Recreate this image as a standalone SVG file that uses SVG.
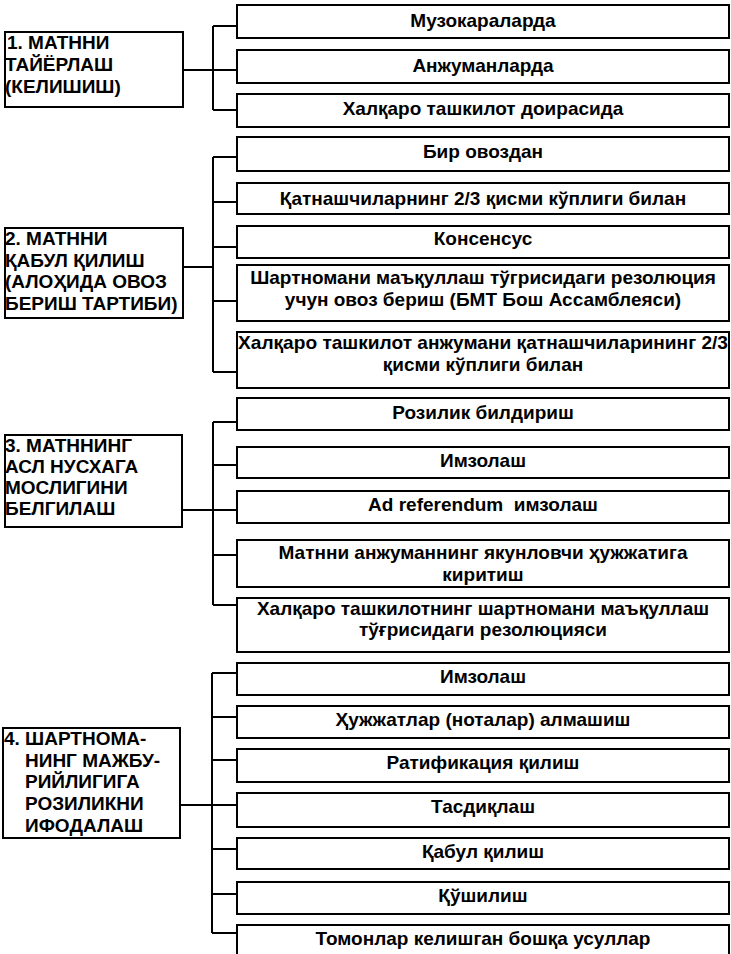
<svg xmlns="http://www.w3.org/2000/svg" width="731" height="954" viewBox="0 0 731 954">
<style>
rect{fill:#fff;stroke:#000;stroke-width:2}
.c path{fill:none;stroke:#000;stroke-width:2}
text{font-family:"Liberation Sans",Arial,sans-serif;font-weight:bold;fill:#000}
.l{font-size:19px}
.r{font-size:19px;text-anchor:middle}
</style>
<rect x="0" y="0" width="731" height="954" style="stroke:none"/>
<g class="c" id="connectors">
<path d="M183 70H213M213 26V110M213 26H237M213 70H237M213 110H237"/>
<path d="M183 267H213M213 157V372M213 157H237M213 202H237M213 247H237M213 301H237M213 372H237"/>
<path d="M182 510H213M213 422V605M213 422H237M213 465H237M213 510H237M213 555H237M213 605H237"/>
<path d="M180 805H212M212 673V933M212 673H237M212 717H237M212 760H237M212 805H237M212 849H237M212 894H237M212 933H237"/>
</g>
<g id="n1"><rect x="5" y="32" width="178" height="75"/>
<text class="l" x="7" y="49">1. МАТННИ</text><text class="l" x="5" y="71">ТАЙЁРЛАШ</text><text class="l" x="5" y="93">(КЕЛИШИШ)</text></g>
<g id="n2"><rect x="5" y="228" width="178" height="90"/>
<text class="l" x="5" y="245">2. МАТННИ</text><text class="l" x="5" y="267">ҚАБУЛ ҚИЛИШ</text><text class="l" x="5" y="288">(АЛОҲИДА ОВОЗ</text><text class="l" x="5" y="310">БЕРИШ ТАРТИБИ)</text></g>
<g id="n3"><rect x="5" y="435" width="177" height="92"/>
<text class="l" x="5" y="452">3. МАТННИНГ</text><text class="l" x="5" y="473">АСЛ НУСХАГА</text><text class="l" x="5" y="494">МОСЛИГИНИ</text><text class="l" x="5" y="515">БЕЛГИЛАШ</text></g>
<g id="n4"><rect x="3" y="728" width="177" height="110"/>
<text class="l" x="4" y="745">4. ШАРТНОМА-</text><text class="l" x="25" y="767">НИНГ МАЖБУ-</text><text class="l" x="25" y="788">РИЙЛИГИГА</text><text class="l" x="25" y="810">РОЗИЛИКНИ</text><text class="l" x="25" y="832">ИФОДАЛАШ</text></g>
<g id="b1"><rect x="237" y="5" width="492" height="33"/><text class="r" x="483" y="27">Музокараларда</text></g>
<g id="b2"><rect x="237" y="50" width="492" height="33"/><text class="r" x="483" y="72">Анжуманларда</text></g>
<g id="b3"><rect x="237" y="94" width="492" height="33"/><text class="r" x="483" y="115">Халқаро ташкилот доирасида</text></g>
<g id="b4"><rect x="237" y="137" width="492" height="34"/><text class="r" x="483" y="158">Бир овоздан</text></g>
<g id="b5"><rect x="237" y="183" width="492" height="31"/><text class="r" x="483" y="205">Қатнашчиларнинг 2/3 қисми кўплиги билан</text></g>
<g id="b6"><rect x="237" y="226" width="492" height="32"/><text class="r" x="483" y="245">Консенсус</text></g>
<g id="b7"><rect x="237" y="265" width="492" height="56"/><text class="r" x="483" y="284">Шартномани маъқуллаш тўгрисидаги резолюция</text><text class="r" x="483" y="306">учун овоз бериш (БМТ Бош Ассамблеяси)</text></g>
<g id="b8"><rect x="237" y="332" width="492" height="56"/><text class="r" x="483" y="349" textLength="490" lengthAdjust="spacingAndGlyphs">Халқаро ташкилот анжумани қатнашчиларининг 2/3</text><text class="r" x="483" y="371">қисми кўплиги билан</text></g>
<g id="b9"><rect x="237" y="398" width="492" height="32"/><text class="r" x="483" y="419">Розилик билдириш</text></g>
<g id="b10"><rect x="237" y="447" width="492" height="31"/><text class="r" x="483" y="467">Имзолаш</text></g>
<g id="b11"><rect x="237" y="491" width="492" height="32"/><text class="r" x="483" y="511">Ad referendum&#160; имзолаш</text></g>
<g id="b12"><rect x="237" y="540" width="492" height="47"/><text class="r" x="483" y="559">Матнни анжуманнинг якунловчи ҳужжатига</text><text class="r" x="483" y="581">киритиш</text></g>
<g id="b13"><rect x="237" y="598" width="492" height="54"/><text class="r" x="483" y="615">Халқаро ташкилотнинг шартномани маъқуллаш</text><text class="r" x="483" y="636">тўғрисидаги резолюцияси</text></g>
<g id="b14"><rect x="237" y="663" width="492" height="32"/><text class="r" x="483" y="683">Имзолаш</text></g>
<g id="b15"><rect x="237" y="706" width="492" height="32"/><text class="r" x="483" y="726">Ҳужжатлар (ноталар) алмашиш</text></g>
<g id="b16"><rect x="237" y="749" width="492" height="33"/><text class="r" x="483" y="769">Ратификация қилиш</text></g>
<g id="b17"><rect x="237" y="793" width="492" height="34"/><text class="r" x="483" y="813">Тасдиқлаш</text></g>
<g id="b18"><rect x="237" y="838" width="492" height="31"/><text class="r" x="483" y="858">Қабул қилиш</text></g>
<g id="b19"><rect x="237" y="882" width="492" height="32"/><text class="r" x="483" y="902">Қўшилиш</text></g>
<g id="b20"><rect x="237" y="925" width="492" height="40"/><text class="r" x="483" y="945">Томонлар келишган бошқа усуллар</text></g>
</svg>
